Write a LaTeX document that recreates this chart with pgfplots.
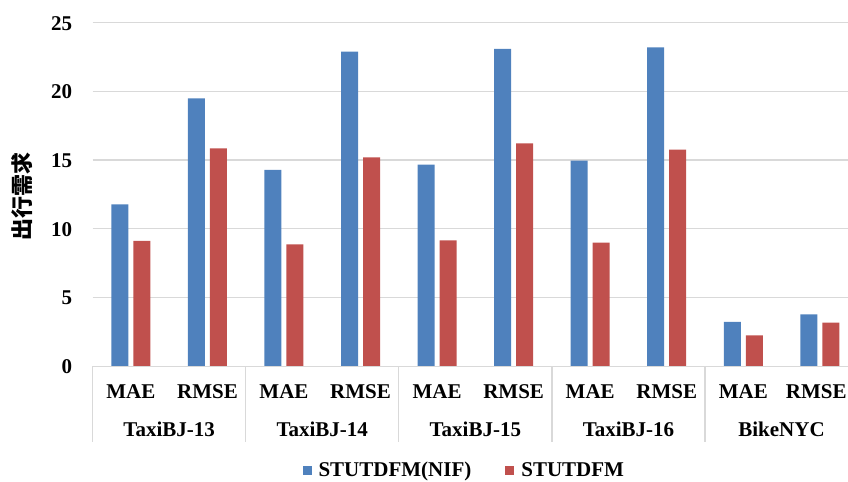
\documentclass[border=0pt]{standalone}
\usepackage{fontspec}
\setmainfont{Liberation Serif}
\newfontfamily\cjk{Noto Sans CJK SC}
\usepackage{pgfplots}
\pgfplotsset{compat=1.18}
\definecolor{cblue}{HTML}{4F81BD}
\definecolor{cred}{HTML}{C0504D}
\definecolor{cgrid}{HTML}{D9D9D9}
\newcommand{\lf}{\fontsize{21bp}{25bp}\selectfont\bfseries}
\begin{document}
\begin{tikzpicture}
\useasboundingbox (0,0) rectangle (848bp,482bp);
\begin{axis}[
  at={(92.6bp,115.8bp)}, anchor=south west,
  scale only axis, width=755.4bp, height=343.5bp,
  xmin=-0.5, xmax=9.368, ymin=0, ymax=25,
  ytick={0,5,...,25},
  xtick={0,...,9},
  xticklabels={MAE,RMSE,MAE,RMSE,MAE,RMSE,MAE,RMSE,MAE,{\hspace*{-7bp}RMSE}},
  axis line style={draw=none},
  ymajorgrids, grid style={cgrid, line width=1.2bp},
  major tick length=0pt,
  tick label style={font=\lf},
  /pgf/number format/assume math mode=true,
  xticklabel style={anchor=base, yshift=-32bp},
  yticklabel style={anchor=base east, xshift=-17bp, yshift=-7.5bp},
  ybar, bar width=17bp,
  clip=false,
  legend style={at={(0.492,-0.302)}, anchor=center, draw=none, legend columns=2,
    font=\lf,
    /tikz/every odd column/.append style={column sep=5bp},
    /tikz/every even column/.append style={column sep=32bp},
    inner sep=0pt},
  legend image code/.code={\fill[#1] (0bp,-5bp) rectangle (9bp,4bp);},
]
\addplot[fill=cblue, draw=none, bar shift=-11bp] coordinates {
 (0,11.78) (1,19.5) (2,14.28) (3,22.89) (4,14.67) (5,23.09) (6,14.96) (7,23.21) (8,3.22) (9,3.78)};
\addplot[fill=cred, draw=none, bar shift=11bp] coordinates {
 (0,9.13) (1,15.86) (2,8.87) (3,15.2) (4,9.16) (5,16.22) (6,8.99) (7,15.76) (8,2.25) (9,3.17)};
\legend{STUTDFM(NIF),STUTDFM}
\draw[cgrid, line width=1.2bp] (axis cs:-0.5,0) -- (axis cs:9.368,0);
\pgfplotsinvokeforeach{-0.5,1.5,3.5,5.5,7.5}{
  \draw[cgrid, line width=1.2bp] (axis cs:#1,0) -- ([yshift=-76bp]axis cs:#1,0);
}
\node[anchor=base, font=\lf] at ([yshift=-70bp]axis cs:0.5,0) {TaxiBJ-13};
\node[anchor=base, font=\lf] at ([yshift=-70bp]axis cs:2.5,0) {TaxiBJ-14};
\node[anchor=base, font=\lf] at ([yshift=-70bp]axis cs:4.5,0) {TaxiBJ-15};
\node[anchor=base, font=\lf] at ([yshift=-70bp]axis cs:6.5,0) {TaxiBJ-16};
\node[anchor=base, font=\lf] at ([yshift=-70bp]axis cs:8.5,0) {BikeNYC};
\end{axis}
\node[rotate=90, font=\cjk\fontsize{22bp}{26bp}\selectfont\bfseries] at (22bp,285bp) {出行需求};
\end{tikzpicture}
\end{document}
